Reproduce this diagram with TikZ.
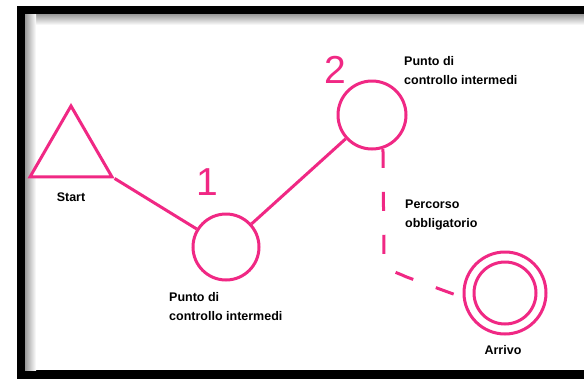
\documentclass[tikz,border=0pt]{standalone}
\usepackage{fontspec}
\setmainfont{Liberation Sans}
\usetikzlibrary{shapes.geometric}
\definecolor{hotpink}{RGB}{240,40,132}
\tikzset{
  pinkline/.style={draw=hotpink, line width=3pt},
  ring/.style={circle, pinkline, fill=white, inner sep=0pt},
  lbl/.style={font=\fontsize{12.5}{19}\selectfont\bfseries, align=left, text=black, inner sep=0pt},
  digit/.style={font=\fontsize{39}{39}\selectfont, text=hotpink, inner sep=0pt},
  dashpath/.style={draw=hotpink, line width=3pt, dash pattern=on 19pt off 24pt}
}
\begin{document}
\begin{tikzpicture}[x=1pt,y=-1pt]
\useasboundingbox (0,0) rectangle (584,378);
% frame
\fill[black] (17,6) rectangle (600,390);
\fill[white] (25,14) rectangle (600,370);
\shade[top color=black!40, bottom color=white] (25,14) rectangle (600,25);
\shade[left color=black!40, right color=white] (25,14) rectangle (36,370);
\fill[white] (36,25) rectangle (600,370);
% shapes
\node[regular polygon, regular polygon sides=3, minimum size=94.7pt, inner sep=0pt, pinkline, fill=white] (start) at (71,153.3) {};
\node[ring, minimum size=66pt] (c1) at (226,247) {};
\node[ring, minimum size=68pt] (c2) at (372,115) {};
\node[ring, minimum size=82pt] (arr) at (505,293) {};
\node[ring, minimum size=62pt] (arrin) at (505,293) {};
% connectors
\draw[pinkline] (start.corner 3) -- (c1);
\draw[pinkline] (c1) -- (c2);
\draw[dashpath] (c2.-72) -- ++(1,110) .. controls +(1,12) and +(-10,-5) .. ++(22,18) -- (arr.186);
% digits
\node[digit] (n1) at (207,182) {1};
\node[digit] (n2) at (335,70) {2};
% labels
\node[lbl, anchor=west] (l2) at (404,71) {Punto di\\controllo intermedi};
\node[lbl, anchor=west] (l1) at (169,307) {Punto di\\controllo intermedi};
\node[lbl, anchor=west] (lp) at (405,215) {Percorso\\obbligatorio};
\node[lbl] (ls) at (71,197) {Start};
\node[lbl] (la) at (503,350) {Arrivo};
\end{tikzpicture}
\end{document}
